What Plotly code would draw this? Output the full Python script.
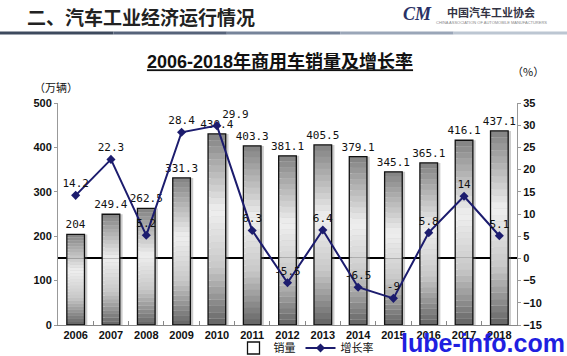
import plotly.graph_objects as go
import numpy as np

# ---------------- data ----------------
years = ["2006", "2007", "2008", "2009", "2010", "2011", "2012",
         "2013", "2014", "2015", "2016", "2017", "2018"]
sales = [204, 249.4, 262.5, 331.3, 430.4, 403.3, 381.1,
         405.5, 379.1, 345.1, 365.1, 416.1, 437.1]
growth = [14.2, 22.3, 5.2, 28.4, 29.9, 6.3, -5.5,
          6.4, -6.5, -9, 5.8, 14, 5.1]
left_ticks = [0, 100, 200, 300, 400, 500]
right_ticks = [-15, -10, -5, 0, 5, 10, 15, 20, 25, 30, 35]

sales_labels = [f"{v:g}" for v in sales]
growth_labels = [f"{v:g}" for v in growth]

# ---------------- geometry helpers (pixel -> paper) ----------------
W, H = 567, 356
L, R, T, B = 58, 50, 103, 31
PW, PH = W - L - R, H - T - B


def px(x):
    return (x - L) / PW


def py(y):
    return (H - B - y) / PH


# ---------------- bar gradient ----------------
N = 30
stops_f = [0.0, 0.3, 0.6, 1.0]
stops_c = [(100, 100, 100), (200, 200, 200), (240, 240, 240), (130, 130, 130)]


def grad_color(f):
    r = np.interp(f, stops_f, [c[0] for c in stops_c])
    g = np.interp(f, stops_f, [c[1] for c in stops_c])
    b = np.interp(f, stops_f, [c[2] for c in stops_c])
    return f"rgb({int(r)},{int(g)},{int(b)})"


BW = 0.5
fig = go.Figure()

# soft shadow
fig.add_bar(x=years, y=sales, width=BW, offset=-BW / 2 + 0.08,
            marker=dict(color="rgba(110,110,110,0.35)", line=dict(width=0)),
            showlegend=False, hoverinfo="skip")

sales_arr = np.array(sales, dtype=float)
for k in range(N):
    fig.add_bar(x=years, y=list(sales_arr / N), base=list(sales_arr * k / N),
                width=BW, offset=-BW / 2,
                marker=dict(color=grad_color((k + 0.5) / N), line=dict(width=0)),
                showlegend=False, hoverinfo="skip")

# outline + value labels (legend entry)
fig.add_bar(x=years, y=sales, width=BW, offset=-BW / 2, name="销量",
            marker=dict(color="rgba(0,0,0,0)", line=dict(color="#111111", width=1.3)),
            text=sales_labels, textposition="outside", cliponaxis=False,
            constraintext="none",
            textfont=dict(family="DejaVu Sans Mono", size=11, color="#111111"),
            outsidetextfont=dict(family="DejaVu Sans Mono", size=11, color="#111111"))

# growth line
tpos = ["top center"] * len(years)
tpos[4] = "top right"
fig.add_scatter(x=years, y=growth, yaxis="y2", name="增长率",
                mode="lines+markers+text",
                line=dict(color="#1c1c6e", width=2),
                marker=dict(symbol="diamond", size=7, color="#1c1c6e"),
                text=growth_labels, textposition=tpos, cliponaxis=False,
                textfont=dict(family="DejaVu Sans Mono", size=11, color="#111111"))

boldfont = dict(family="Liberation Sans", size=11, color="#111111", weight="bold")

fig.update_layout(
    width=W, height=H,
    margin=dict(l=L, r=R, t=T, b=B, autoexpand=False),
    paper_bgcolor="white", plot_bgcolor="white",
    barmode="overlay",
    title=dict(text="<b><u>2006-2018年商用车销量及增长率</u></b>",
               x=280 / W, xanchor="center", y=1 - 62 / H, yanchor="middle",
               font=dict(family="Liberation Sans, Noto Sans CJK SC", size=18, color="#111111")),
    xaxis=dict(type="category", range=[-0.5, len(years) - 0.5],
               showline=True, linecolor="#888888", linewidth=1,
               ticks="inside", ticklen=4, tickcolor="#888888", tickson="boundaries",
               tickfont=boldfont, showgrid=False),
    yaxis=dict(range=[0, 500], tickvals=left_ticks, showline=True,
               linecolor="#999999", linewidth=1, ticks="outside", ticklen=3,
               tickcolor="#999999", tickfont=boldfont,
               showgrid=False, zeroline=False),
    yaxis2=dict(range=[-15, 35], tickvals=right_ticks, overlaying="y", side="right",
                showline=True, linecolor="#999999", linewidth=1, ticks="outside",
                ticklen=3, tickcolor="#999999", tickfont=boldfont,
                showgrid=False, zeroline=True, zerolinecolor="#000000", zerolinewidth=1.5),
    legend=dict(orientation="h", x=px(306), xanchor="center", y=py(348), yanchor="middle",
                font=dict(family="Noto Sans CJK SC", size=11, color="#111111"),
                bgcolor="rgba(0,0,0,0)", itemwidth=30, tracegroupgap=0),
    showlegend=True,
)

# header decoration line (gradient approximation)
seg_cols = ["#3e4a5e", "#56637a", "#76849a", "#9aa6b8", "#bcc6d2"]
xs = np.linspace(0, W, len(seg_cols) + 1)
for i, c in enumerate(seg_cols):
    fig.add_shape(type="line", xref="paper", yref="paper",
                  x0=px(xs[i]), x1=px(xs[i + 1]), y0=py(33), y1=py(33),
                  line=dict(color=c, width=3))

ann = [
    dict(text="<b>二、汽车工业经济运行情况</b>", x=px(25), y=py(17), xanchor="left",
         font=dict(family="Noto Sans CJK SC", size=19, color="#222222")),
    dict(text="<b><i>CM</i></b>", x=px(417), y=py(14),
         font=dict(family="Liberation Serif", size=18, color="#2a3166")),
    dict(text="<b>中国汽车工业协会</b>", x=px(491), y=py(12),
         font=dict(family="Noto Sans CJK SC", size=11, color="#333344")),
    dict(text="CHINA ASSOCIATION OF AUTOMOBILE MANUFACTURERS", x=px(491), y=py(23),
         font=dict(family="Liberation Sans", size=4, color="#888888")),
    dict(text="（万辆）", x=px(56), y=py(87),
         font=dict(family="Noto Sans CJK SC", size=11, color="#111111")),
    dict(text="（%）", x=px(528), y=py(71),
         font=dict(family="Noto Sans CJK SC", size=11, color="#111111")),
    dict(text="<b>lube-info.com</b>", x=px(483), y=py(343),
         font=dict(family="Liberation Sans", size=25, color="#1f1fe0")),
]
for a in ann:
    a.update(xref="paper", yref="paper", showarrow=False)
    a.setdefault("xanchor", "center")
    a.setdefault("yanchor", "middle")
    fig.add_annotation(**a)

fig.write_html("out.html", config={"displayModeBar": False},
               post_script="document.body.style.margin='0';")
